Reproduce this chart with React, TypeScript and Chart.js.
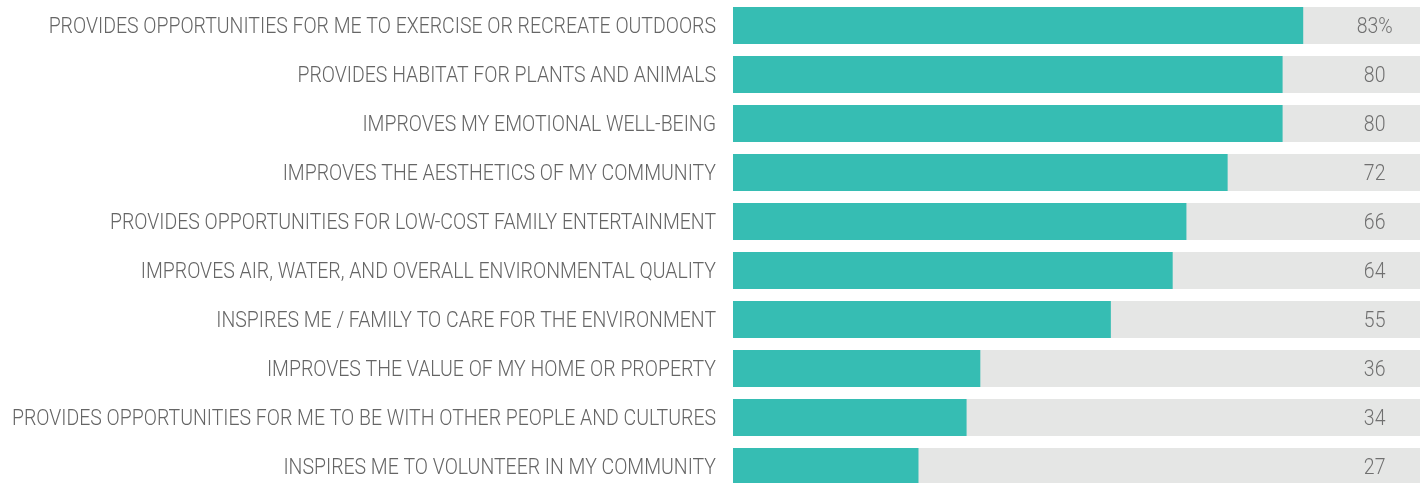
import React, { useEffect, useRef } from "react";
import { Chart, registerables } from "chart.js";

Chart.register(...registerables);

const categories = [
  "PROVIDES OPPORTUNITIES FOR ME TO EXERCISE OR RECREATE OUTDOORS",
  "PROVIDES HABITAT FOR PLANTS AND ANIMALS",
  "IMPROVES MY EMOTIONAL WELL-BEING",
  "IMPROVES THE AESTHETICS OF MY COMMUNITY",
  "PROVIDES OPPORTUNITIES FOR LOW-COST FAMILY ENTERTAINMENT",
  "IMPROVES AIR, WATER, AND OVERALL ENVIRONMENTAL QUALITY",
  "INSPIRES ME / FAMILY TO CARE FOR THE ENVIRONMENT",
  "IMPROVES THE VALUE OF MY HOME OR PROPERTY",
  "PROVIDES OPPORTUNITIES FOR ME TO BE WITH OTHER PEOPLE AND CULTURES",
  "INSPIRES ME TO VOLUNTEER IN MY COMMUNITY",
];
const values = [83, 80, 80, 72, 66, 64, 55, 36, 34, 27];
const valueLabels = ["83%", "80", "80", "72", "66", "64", "55", "36", "34", "27"];
const fullValues = [100, 100, 100, 100, 100, 100, 100, 100, 100, 100];

const FONT = "300 22px Roboto, 'Noto Sans', sans-serif";
const LABEL_RIGHT = 716;
const LONGEST_LABEL_WIDTH = 704;
const CAP_HALF = 7.7;

const textPlugin = {
  id: "condensedText",
  afterDatasetsDraw(chart: any) {
    const { ctx } = chart;
    const yScale = chart.scales.y;
    const xScale = chart.scales.x;
    ctx.save();
    ctx.font = FONT;
    const maxW = Math.max(...categories.map((c) => ctx.measureText(c).width));
    const sx = LONGEST_LABEL_WIDTH / maxW;
    ctx.textBaseline = "alphabetic";

    // category labels
    ctx.fillStyle = "#656565";
    ctx.textAlign = "right";
    categories.forEach((c, i) => {
      const py = yScale.getPixelForValue(i);
      ctx.save();
      ctx.translate(LABEL_RIGHT, py + CAP_HALF);
      ctx.scale(sx, 1);
      ctx.fillText(c, 0, 0);
      ctx.restore();
    });

    // value labels (centred)
    ctx.fillStyle = "#707070";
    ctx.textAlign = "center";
    const cx = xScale.getPixelForValue(93.4);
    valueLabels.forEach((label, i) => {
      const py = yScale.getPixelForValue(i);
      ctx.save();
      ctx.translate(cx, py + CAP_HALF);
      ctx.scale(sx, 1);
      ctx.fillText(label, 0, 0);
      ctx.restore();
    });
    ctx.restore();
  },
};

export default function App() {
  const ref = useRef<HTMLCanvasElement>(null);
  useEffect(() => {
    if (!ref.current) return;
    const chart = new Chart(ref.current, {
      type: "bar",
      data: {
        labels: categories,
        datasets: [
          {
            data: fullValues,
            backgroundColor: "#e5e6e5",
            grouped: false,
            order: 1,
            categoryPercentage: 1,
            barPercentage: 37 / 49,
          } as any,
          {
            data: values,
            backgroundColor: "#36bdb3",
            grouped: false,
            order: 0,
            categoryPercentage: 1,
            barPercentage: 37 / 49,
          } as any,
        ],
      },
      options: {
        indexAxis: "y",
        animation: false,
        responsive: false,
        maintainAspectRatio: false,
        layout: { padding: { top: 1, bottom: 1, left: 0, right: 6 } },
        plugins: {
          legend: { display: false },
          tooltip: { enabled: false },
        },
        scales: {
          x: {
            min: 0,
            max: 100,
            display: false,
            grid: { display: false },
          },
          y: {
            grid: { display: false, drawTicks: false },
            border: { display: false },
            ticks: { display: false, autoSkip: false },
            afterFit(scale: any) {
              scale.width = 733;
              scale.paddingTop = 0;
              scale.paddingBottom = 0;
            },
          },
        },
      },
      plugins: [textPlugin],
    });
    return () => chart.destroy();
  }, []);
  return (
    <div style={{ position: "fixed", left: 0, top: 0, width: 1426, height: 492, background: "#fff" }}>
      <canvas ref={ref} width={1426} height={492} style={{ width: 1426, height: 492, display: "block" }} />
    </div>
  );
}
